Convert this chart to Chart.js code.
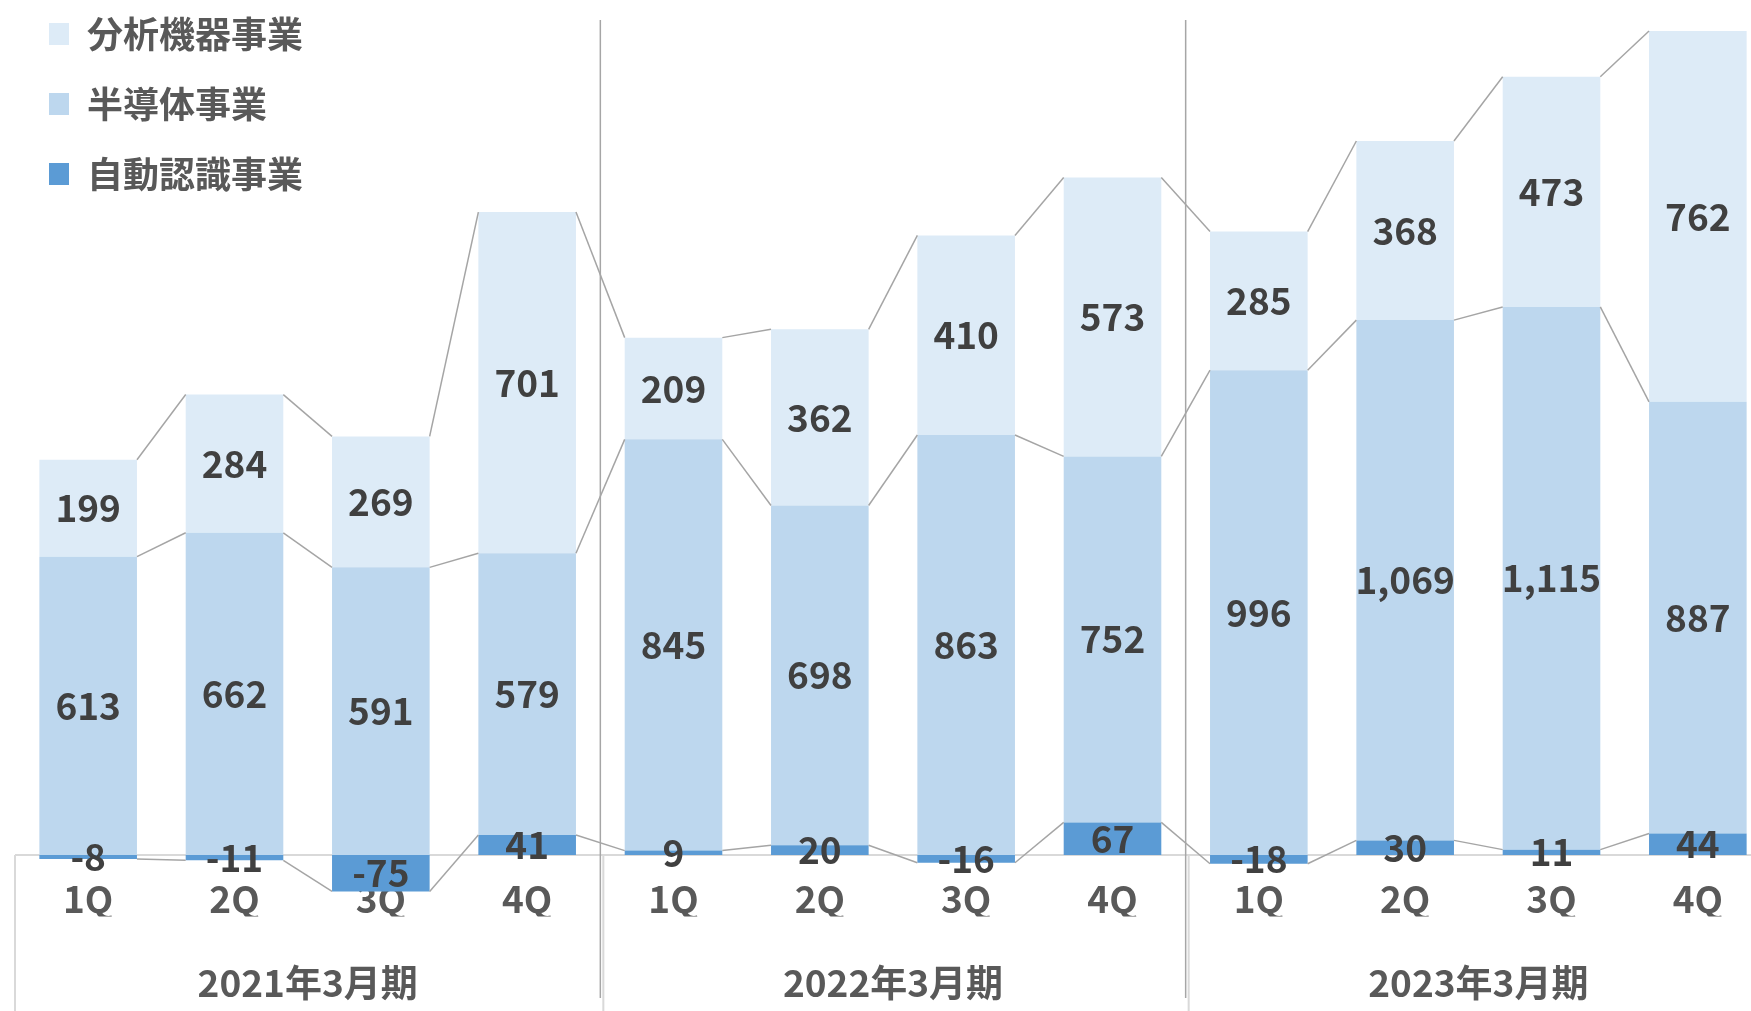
<!DOCTYPE html>
<html>
<head>
<meta charset="utf-8">
<script src="https://cdn.jsdelivr.net/npm/chart.js@4/dist/chart.umd.min.js"></script>
<style>
html, body { margin: 0; padding: 0; background: #fff; overflow: hidden; }
/* chart is a bit wider than the window and pushed up, like the cropped original */
#wrap { position: absolute; left: 0; top: -18px; width: 1771px; height: 1029px; }
</style>
</head>
<body>
<div id="wrap"><canvas id="myChart"></canvas></div>
<script>
// quarter labels and fiscal-year groups
const quarters = ['1Q', '2Q', '3Q', '4Q', '1Q', '2Q', '3Q', '4Q', '1Q', '2Q', '3Q', '4Q'];
const periods = ['2021年3月期', '2022年3月期', '2023年3月期'];

// segment values
const autoId = [-8, -11, -75, 41, 9, 20, -16, 67, -18, 30, 11, 44];
const semi = [613, 662, 591, 579, 845, 698, 863, 752, 996, 1069, 1115, 887];
const analysis = [199, 284, 269, 701, 209, 362, 410, 573, 285, 368, 473, 762];

const FONT = '"Noto Sans CJK JP", "Noto Sans", sans-serif';
const SHIFT = 18; // wrapper offset

// axis frame + separators between fiscal years
const frame = {
    id: 'frame',
    beforeDatasetsDraw(chart) {
        const c = chart.ctx;
        const x = chart.scales.x;
        const y0 = chart.scales.y.getPixelForValue(0);
        const left = chart.chartArea.left;
        c.save();
        c.strokeStyle = '#D9D9D9';
        c.lineWidth = 2;
        c.beginPath();
        c.moveTo(left, y0);
        c.lineTo(chart.width, y0);
        c.moveTo(left, y0);
        c.lineTo(left, chart.height);
        for (let g = 1; g < periods.length; g++) {
            const bx = (x.getPixelForValue(g * 4 - 1) + x.getPixelForValue(g * 4)) / 2 + 3;
            c.moveTo(bx, y0);
            c.lineTo(bx, chart.height);
        }
        c.stroke();
        c.restore();
    },
    afterDraw(chart) {
        const c = chart.ctx;
        const x = chart.scales.x;
        c.save();
        c.strokeStyle = '#A6A6A6';
        c.lineWidth = 1.5;
        c.beginPath();
        for (let g = 1; g < periods.length; g++) {
            const bx = (x.getPixelForValue(g * 4 - 1) + x.getPixelForValue(g * 4)) / 2;
            c.moveTo(bx, 20 + SHIFT);
            c.lineTo(bx, 998 + SHIFT);
        }
        c.stroke();
        c.restore();
    }
};

// excel-style series lines between the bars
const seriesLines = {
    id: 'seriesLines',
    afterDatasetsDraw(chart) {
        const c = chart.ctx;
        c.save();
        c.strokeStyle = '#A5A5A5';
        c.lineWidth = 1.5;
        chart.data.datasets.forEach((ds, d) => {
            const bars = chart.getDatasetMeta(d).data;
            for (let i = 0; i < bars.length - 1; i++) {
                const a = bars[i], b = bars[i + 1];
                c.beginPath();
                c.moveTo(a.x + a.width / 2, a.y);
                c.lineTo(b.x - b.width / 2, b.y);
                c.stroke();
            }
        });
        c.restore();
    }
};

// value labels centred in each segment
const valueLabels = {
    id: 'valueLabels',
    afterDatasetsDraw(chart) {
        const c = chart.ctx;
        c.save();
        c.fillStyle = '#404040';
        c.font = 'bold 37px ' + FONT;
        c.textAlign = 'center';
        c.textBaseline = 'middle';
        chart.data.datasets.forEach((ds, d) => {
            chart.getDatasetMeta(d).data.forEach((bar, i) => {
                c.fillText(ds.data[i].toLocaleString('en-US'), bar.x, (bar.y + bar.base) / 2);
            });
        });
        c.restore();
    }
};

const ctx = document.getElementById('myChart');
new Chart(ctx, {
    type: 'bar',
    data: {
        labels: quarters,
        datasets: [
            { label: '自動認識事業', data: autoId, backgroundColor: '#5B9BD5', clip: false },
            { label: '半導体事業', data: semi, backgroundColor: '#BDD7EE', clip: false },
            { label: '分析機器事業', data: analysis, backgroundColor: '#DDEBF7', clip: false }
        ]
    },
    options: {
        responsive: true,
        maintainAspectRatio: false,
        animation: false,
        datasets: { bar: { categoryPercentage: 1, barPercentage: 0.667, xAxisID: 'x' } },
        layout: { padding: { left: 15, right: 0, top: 0, bottom: 0 } },
        plugins: {
            legend: {
                position: 'chartArea',
                align: 'start',
                reverse: true,
                labels: {
                    boxWidth: 20,
                    boxHeight: 22,
                    padding: 34,
                    color: '#595959',
                    font: { family: FONT, size: 36, weight: 'bold' }
                }
            },
            tooltip: { enabled: false }
        },
        scales: {
            x: {
                type: 'category',
                stacked: true,
                weight: 0,
                grid: { display: false, drawTicks: false },
                border: { display: false },
                ticks: {
                    color: '#595959',
                    font: { family: FONT, size: 37, weight: 'bold' },
                    padding: 0,
                    autoSkip: false,
                    maxRotation: 0
                },
                afterFit: (s) => { s.height = 40; }
            },
            xg: {
                type: 'linear',
                position: 'bottom',
                weight: 1,
                offset: false,
                min: -0.5,
                max: 11.5,
                grid: { display: false, drawTicks: false, offset: false },
                border: { display: false },
                afterBuildTicks: (s) => { s.ticks = periods.map((p, i) => ({ value: i * 4 + 1.5 })); },
                ticks: {
                    color: '#595959',
                    font: { family: FONT, size: 37, weight: 'bold' },
                    padding: 44,
                    autoSkip: false,
                    maxRotation: 0,
                    callback: (v) => periods[Math.round((v - 1.5) / 4)]
                },
                afterFit: (s) => { s.height = 94.5; }
            },
            y: {
                stacked: true,
                display: false,
                min: -44.2,
                max: 1793.7
            }
        }
    },
    plugins: [frame, seriesLines, valueLabels]
});
</script>
</body>
</html>
